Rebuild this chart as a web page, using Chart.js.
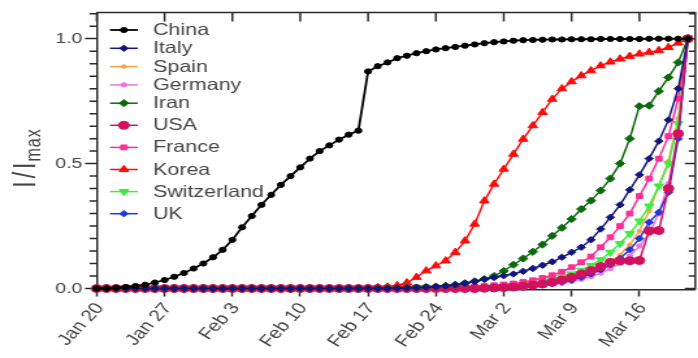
<!DOCTYPE html>
<html>
<head>
<meta charset="utf-8">
<script src="https://cdn.jsdelivr.net/npm/chart.js@4.4.1/dist/chart.umd.min.js"></script>
<style>
  html, body { margin: 0; padding: 0; background: #fff; overflow: hidden; width: 698px; height: 358px; }
  /* the figure is drawn narrow and widened on screen */
  #plot { display: block; width: 702px !important; height: 358px !important; }
</style>
</head>
<body>
<canvas id="plot" width="540" height="358"></canvas>
<script>
// Days since Jan 20 (index 0 = Jan 20, index 61 = Mar 21); weekly tick labels
const weekLabels = ['Jan 20', 'Jan 27', 'Feb 3', 'Feb 10', 'Feb 17', 'Feb 24', 'Mar 2', 'Mar 9', 'Mar 16'];

// Normalised infected counts I/Imax, one value per day
const china = [
  0, 0, 0.003, 0.006, 0.01, 0.015, 0.024, 0.034, 0.047, 0.062,
  0.08, 0.1, 0.125, 0.155, 0.195, 0.245, 0.29, 0.335, 0.375, 0.415,
  0.45, 0.485, 0.52, 0.55, 0.573, 0.596, 0.616, 0.632, 0.869, 0.89,
  0.905, 0.922, 0.932, 0.942, 0.95, 0.957, 0.962, 0.967, 0.972, 0.977,
  0.982, 0.986, 0.989, 0.992, 0.994, 0.995, 0.996, 0.997, 0.997, 0.998,
  0.998, 0.998, 0.999, 0.999, 0.999, 0.999, 0.999, 1, 1, 1,
  1, 1
];
const italy = [
  0, 0, 0, 0, 0, 0, 0, 0, 0, 0,
  0, 0, 0, 0, 0, 0, 0, 0, 0, 0,
  0, 0, 0, 0, 0, 0, 0, 0, 0, 0,
  0, 0.001, 0.002, 0.003, 0.005, 0.007, 0.01, 0.015, 0.021, 0.028,
  0.036, 0.044, 0.051, 0.058, 0.069, 0.08, 0.093, 0.107, 0.125, 0.145,
  0.165, 0.195, 0.238, 0.285, 0.335, 0.395, 0.455, 0.52, 0.59, 0.675,
  0.8, 1
];
const spain = [
  0, 0, 0, 0, 0, 0, 0, 0, 0, 0,
  0, 0, 0, 0, 0, 0, 0, 0, 0, 0,
  0, 0, 0, 0, 0, 0, 0, 0, 0, 0,
  0, 0, 0, 0, 0, 0, 0, 0, 0, 0.001,
  0.002, 0.003, 0.004, 0.006, 0.008, 0.011, 0.014, 0.019, 0.025, 0.033,
  0.045, 0.06, 0.08, 0.105, 0.135, 0.175, 0.23, 0.31, 0.41, 0.51,
  0.68, 1
];
const germany = [
  0, 0, 0, 0, 0, 0, 0, 0, 0, 0,
  0, 0, 0, 0, 0, 0, 0, 0, 0, 0,
  0, 0, 0, 0, 0, 0, 0, 0, 0, 0,
  0, 0, 0, 0, 0, 0, 0, 0, 0, 0.001,
  0.002, 0.003, 0.004, 0.005, 0.007, 0.009, 0.012, 0.016, 0.021, 0.028,
  0.037, 0.048, 0.062, 0.08, 0.1, 0.13, 0.17, 0.22, 0.3, 0.42,
  0.62, 1
];
const iran = [
  0, 0, 0, 0, 0, 0, 0, 0, 0, 0,
  0, 0, 0, 0, 0, 0, 0, 0, 0, 0,
  0, 0, 0, 0, 0, 0, 0, 0, 0, 0,
  0.001, 0.002, 0.003, 0.004, 0.006, 0.008, 0.011, 0.015, 0.021, 0.029,
  0.038, 0.05, 0.07, 0.095, 0.12, 0.147, 0.176, 0.211, 0.243, 0.278,
  0.318, 0.352, 0.392, 0.44, 0.5, 0.6, 0.73, 0.732, 0.79, 0.845,
  0.905, 1
];
const usa = [
  0, 0, 0, 0, 0, 0, 0, 0, 0, 0,
  0, 0, 0, 0, 0, 0, 0, 0, 0, 0,
  0, 0, 0, 0, 0, 0, 0, 0, 0, 0,
  0, 0, 0, 0, 0, 0, 0, 0, 0, 0,
  0.001, 0.002, 0.004, 0.006, 0.009, 0.013, 0.018, 0.025, 0.034, 0.045,
  0.058, 0.072, 0.088, 0.105, 0.111, 0.111, 0.112, 0.231, 0.232, 0.4,
  0.62, 1
];
const france = [
  0, 0, 0, 0, 0, 0, 0, 0, 0, 0,
  0, 0, 0, 0, 0, 0, 0, 0, 0, 0,
  0, 0, 0, 0, 0, 0, 0, 0, 0, 0,
  0, 0, 0, 0, 0, 0.001, 0.002, 0.003, 0.005, 0.007,
  0.01, 0.013, 0.016, 0.02, 0.026, 0.033, 0.042, 0.053, 0.067, 0.085,
  0.105, 0.128, 0.165, 0.205, 0.25, 0.3, 0.37, 0.44, 0.52, 0.61,
  0.76, 1
];
const korea = [
  0, 0, 0, 0, 0, 0, 0, 0, 0, 0,
  0, 0, 0, 0, 0, 0, 0, 0, 0, 0,
  0, 0, 0, 0, 0, 0, 0, 0, 0, 0.004,
  0.006, 0.012, 0.023, 0.045, 0.071, 0.091, 0.111, 0.145, 0.191, 0.258,
  0.351, 0.418, 0.478, 0.538, 0.598, 0.652, 0.705, 0.758, 0.8, 0.828,
  0.852, 0.872, 0.892, 0.907, 0.919, 0.93, 0.939, 0.946, 0.953, 0.965,
  0.983, 1
];
const switzerland = [
  0, 0, 0, 0, 0, 0, 0, 0, 0, 0,
  0, 0, 0, 0, 0, 0, 0, 0, 0, 0,
  0, 0, 0, 0, 0, 0, 0, 0, 0, 0,
  0, 0, 0, 0, 0, 0, 0, 0, 0.001, 0.002,
  0.004, 0.006, 0.009, 0.012, 0.016, 0.021, 0.028, 0.036, 0.046, 0.058,
  0.073, 0.092, 0.115, 0.145, 0.18, 0.22, 0.27, 0.33, 0.41, 0.5,
  0.66, 1
];
const uk = [
  0, 0, 0, 0, 0, 0, 0, 0, 0, 0,
  0, 0, 0, 0, 0, 0, 0, 0, 0, 0,
  0, 0, 0, 0, 0, 0, 0, 0, 0, 0,
  0, 0, 0, 0, 0, 0, 0, 0, 0, 0,
  0.001, 0.002, 0.003, 0.005, 0.007, 0.01, 0.014, 0.019, 0.026, 0.034,
  0.045, 0.058, 0.075, 0.095, 0.12, 0.155, 0.2, 0.265, 0.305, 0.385,
  0.6, 1
];

// Series in legend order with their look; "order" controls stacking (lower = drawn later, on top)
const seriesList = [
  { name: 'China',       values: china,       color: '#000000', style: 'circle',   r: 2.6, rot: 0,   order: 1 },
  { name: 'Italy',       values: italy,       color: '#14147f', style: 'rectRot',  r: 3.2, rot: 0,   order: 2 },
  { name: 'Spain',       values: spain,       color: '#f7a046', style: 'circle',   r: 1.8, rot: 0,   order: 10 },
  { name: 'Germany',     values: germany,     color: '#ee74dc', style: 'circle',   r: 2.2, rot: 0,   order: 9 },
  { name: 'Iran',        values: iran,        color: '#0c690c', style: 'rectRot',  r: 3.6, rot: 0,   order: 3 },
  { name: 'USA',         values: usa,         color: '#d1105e', style: 'circle',   r: 4.0, rot: 0,   order: 5 },
  { name: 'France',      values: france,      color: '#ff2d95', style: 'rect',     r: 3.4, rot: 0,   order: 6 },
  { name: 'Korea',       values: korea,       color: '#ff0a0a', style: 'triangle', r: 4.2, rot: 0,   order: 4 },
  { name: 'Switzerland', values: switzerland, color: '#3ded3d', style: 'triangle', r: 4.2, rot: 180, order: 8 },
  { name: 'UK',          values: uk,          color: '#1f35e0', style: 'rectRot',  r: 3.2, rot: 0,   order: 7 }
];

const axisColor = '#2a2a2a';
const textColor = '#454545';
const fontFamily = '"Liberation Sans", Arial, Helvetica, sans-serif';
Chart.defaults.font.family = fontFamily;

// Box frame: top and right edges, inward mirror ticks, and minor ticks every 0.05
const framePlugin = {
  id: 'frame',
  beforeDatasetsDraw(chart) {
    const { ctx, chartArea: a, scales: { x, y } } = chart;
    ctx.save();
    ctx.strokeStyle = axisColor;
    ctx.lineWidth = 1.5;
    ctx.beginPath();
    ctx.moveTo(a.left, a.top);
    ctx.lineTo(a.right, a.top);
    ctx.lineTo(a.right, a.bottom);
    x.ticks.forEach(t => {
      const px = x.getPixelForValue(t.value);
      ctx.moveTo(px, a.top);
      ctx.lineTo(px, a.top + 9);
    });
    for (let k = 0; k <= 22; k++) {
      const py = y.getPixelForValue(k * 0.05);
      const major = k % 10 === 0;
      if (!major) {
        ctx.moveTo(a.left, py);
        ctx.lineTo(a.left - 5.5, py);
      }
      ctx.moveTo(a.right, py);
      ctx.lineTo(a.right - (major ? 8 : 5), py);
    }
    ctx.stroke();
    ctx.restore();
  }
};

// Inset legend with a line-and-symbol sample for each series
const legendPlugin = {
  id: 'insetLegend',
  afterDatasetsDraw(chart) {
    const { ctx, chartArea: a } = chart;
    ctx.save();
    ctx.font = '16.5px ' + fontFamily;
    ctx.textBaseline = 'middle';
    ctx.textAlign = 'left';
    let rowY = a.top + 17.5;
    chart.data.datasets.forEach((ds, i) => {
      if (i > 0) rowY += i < 5 ? 18.3 : 22.1;
      const x0 = a.left + 10.2, x1 = a.left + 31.6, xm = (x0 + x1) / 2;
      ctx.strokeStyle = ds.borderColor;
      ctx.lineWidth = ds.borderWidth;
      ctx.beginPath();
      ctx.moveTo(x0, rowY);
      ctx.lineTo(x1, rowY);
      ctx.stroke();
      ctx.fillStyle = ds.pointBackgroundColor;
      ctx.strokeStyle = ds.pointBorderColor;
      ctx.lineWidth = 1;
      Chart.helpers.drawPoint(ctx, {
        pointStyle: ds.pointStyle, radius: ds.pointRadius,
        rotation: ds.pointRotation, borderWidth: 1
      }, xm, rowY);
      ctx.fillStyle = textColor;
      ctx.fillText(ds.label, a.left + 43.3, rowY + 0.5);
    });
    ctx.restore();
  }
};

// Y-axis title I/I with subscript "max"
const yTitlePlugin = {
  id: 'yTitle',
  afterDraw(chart) {
    const ctx = chart.ctx;
    ctx.save();
    ctx.translate(20.5, 157);
    ctx.rotate(-Math.PI / 2);
    ctx.fillStyle = textColor;
    ctx.textBaseline = 'middle';
    ctx.textAlign = 'left';
    const main = 'I/I', sub = 'max';
    ctx.letterSpacing = '3px';
    ctx.font = '23px ' + fontFamily;
    const w1 = ctx.measureText(main).width;
    ctx.letterSpacing = '1px';
    ctx.font = '16px ' + fontFamily;
    const w2 = ctx.measureText(sub).width;
    const start = -(w1 + w2) / 2;
    ctx.letterSpacing = '3px';
    ctx.font = '23px ' + fontFamily;
    ctx.fillText(main, start, 0);
    ctx.letterSpacing = '1px';
    ctx.font = '16px ' + fontFamily;
    ctx.fillText(sub, start + w1 - 2, 6);
    ctx.restore();
  }
};

const datasets = seriesList.map(s => ({
  label: s.name,
  data: s.values.map((v, i) => ({ x: i, y: v })),
  borderColor: s.color,
  backgroundColor: s.color,
  pointBackgroundColor: s.color,
  pointBorderColor: s.color,
  pointStyle: s.style,
  pointRadius: s.r,
  pointRotation: s.rot,
  pointBorderWidth: 1,
  borderWidth: s.name === 'China' ? 1.8 : 1.5,
  tension: 0,
  order: s.order,
  clip: false
}));

new Chart(document.getElementById('plot'), {
  type: 'line',
  data: { datasets },
  options: {
    responsive: false,
    devicePixelRatio: 1,
    animation: false,
    events: [],
    layout: { padding: { top: 12.5, right: 1.5, left: 0, bottom: 0 } },
    plugins: { legend: { display: false }, tooltip: { enabled: false } },
    scales: {
      x: {
        type: 'linear',
        min: 0,
        max: 61.76,
        border: { display: true, color: axisColor, width: 1.5 },
        grid: { display: true, drawOnChartArea: false, drawTicks: true, tickLength: 7, tickWidth: 1.5, tickColor: axisColor },
        ticks: {
          stepSize: 7, includeBounds: false, autoSkip: false,
          maxRotation: 53, minRotation: 53, padding: 3, labelOffset: 2.5,
          color: textColor, font: { size: 16 },
          callback: v => weekLabels[v / 7] ?? ''
        },
        afterFit: s => { s.height = 68.5; }
      },
      y: {
        type: 'linear',
        min: -0.004,
        max: 1.105,
        border: { display: true, color: axisColor, width: 1.5 },
        grid: { display: true, drawOnChartArea: false, drawTicks: true, tickLength: 9, tickWidth: 1.5, tickColor: axisColor },
        ticks: {
          stepSize: 0.5, includeBounds: false, padding: 2,
          color: textColor, font: { size: 15 },
          callback: v => v.toFixed(1)
        },
        afterFit: s => { s.width = 74.4; }
      }
    }
  },
  plugins: [framePlugin, legendPlugin, yTitlePlugin]
});
</script>
</body>
</html>
